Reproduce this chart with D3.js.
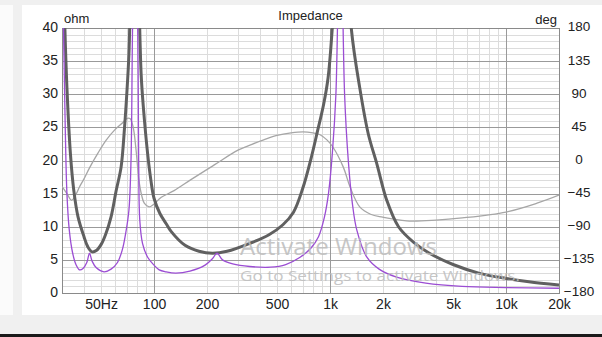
<!DOCTYPE html>
<html>
<head>
<meta charset="utf-8">
<script src="https://cdn.jsdelivr.net/npm/d3@7"></script>
<style>
  body { margin: 0; background: #f0f0f0; }
  svg { display: block; font-family: Arial, "Liberation Sans", sans-serif; }
</style>
</head>
<body>
<div id="chart"></div>
<script>
// frequency axis
var freqTicks = [50, 100, 200, 500, 1000, 2000, 5000, 10000, 20000];
var freqLabels = ["50Hz", "100", "200", "500", "1k", "2k", "5k", "10k", "20k"];
var freqMajor = [100, 1000, 10000];
var ohmTicks = [0, 5, 10, 15, 20, 25, 30, 35, 40];
var degTicks = [-180, -135, -90, -45, 0, 45, 90, 135, 180];

// thick gray: system impedance [Hz, ohm]
var systemImpedance = [
  [30, 60], [31, 42], [32, 31], [33.5, 21], [35, 15.5], [37, 11.5], [40, 8.5],
  [42, 7.0], [44.5, 6.2], [47, 6.4], [50, 7.3], [53, 8.8], [57, 11.5], [61, 15.5],
  [65, 19], [68, 25], [70, 30], [72, 36], [73.5, 45], [78, 65], [82, 45], [84.5, 33],
  [87, 28], [92, 21], [96, 17], [100, 14.3], [108, 12], [117, 10.5], [125, 9.3],
  [150, 7.2], [180, 6.3], [215, 6.0], [260, 6.3], [350, 7.5], [450, 8.8], [540, 10.3],
  [620, 12.2], [700, 15.8], [780, 20.3], [850, 24.5], [920, 28.5], [975, 32.5], [1030, 40],
  [1160, 65], [1320, 40], [1475, 31], [1650, 24], [1845, 19.5], [2100, 14], [2450, 10],
  [3000, 7.6], [3670, 6.0], [5000, 4.3], [7000, 3.0], [10000, 2.2], [13500, 1.7], [20000, 1.2]
];

// purple: driver impedance [Hz, ohm]
var driverImpedance = [
  [30, 55], [30.6, 40], [31.3, 25], [32, 15], [33, 9.5], [34.5, 6], [36, 4.3],
  [37.7, 3.5], [39.5, 3.7], [41.5, 4.6], [43, 6.0], [44.5, 4.8], [47, 3.8], [52, 3.2],
  [57, 3.6], [62, 4.6], [66, 6.5], [69, 9], [72, 12.5], [74, 20], [75.5, 40], [78, 60],
  [80.8, 40], [81.8, 20], [83, 11], [86, 7.5], [92, 5.4], [100, 4.2], [107, 3.5],
  [117, 3.2], [133, 3.0], [160, 3.3], [195, 4.2], [215, 5.2], [228, 6.0], [245, 5.0],
  [280, 4.4], [350, 4.0], [458, 3.9], [560, 4.3], [676, 5.4], [780, 6.8], [860, 8.5],
  [930, 11.5], [980, 15], [1030, 21], [1080, 30], [1144, 60], [1210, 30], [1270, 20],
  [1340, 13.5], [1420, 9.5], [1620, 5.4], [1900, 3.6], [2390, 2.4], [3500, 1.5],
  [5630, 1.0], [10000, 0.82], [20000, 0.72]
];

// thin gray: phase [Hz, deg]
var systemPhase = [
  [30, -35], [32, -45], [34, -54], [36, -46], [37.7, -36], [40, -25], [43, -10],
  [48, 10], [53.6, 28], [60, 42], [66.8, 52], [70, 57], [73, 57], [76, 46], [79, 15],
  [82, -26], [85, -47], [88, -58], [93.7, -63], [100, -59], [110, -50], [130, -41],
  [162, -26], [220, -6], [300, 14], [360, 22], [420, 28], [500, 34], [600, 37.5], [703, 39],
  [800, 37.5], [878, 35], [960, 28], [1040, 18], [1190, -9], [1300, -36], [1475, -63],
  [1700, -73], [1990, -77], [2720, -82], [4000, -81], [5640, -78], [10000, -70],
  [15000, -58], [20000, -47]
];

var svgWidth = 602;
var svgHeight = 337;
var plot = { left: 62, right: 559, top: 28, bottom: 293 };

var svg = d3.select("#chart")
  .append("svg")
  .attr("width", svgWidth)
  .attr("height", svgHeight);

// window background pieces
svg.append("rect").attr("x", 0).attr("y", 5).attr("width", 13).attr("height", 310).attr("fill", "#fbfbfb");
svg.append("rect").attr("x", 22).attr("y", 5).attr("width", 580).attr("height", 310).attr("fill", "#ffffff");
svg.append("rect").attr("x", 0).attr("y", 334).attr("width", 602).attr("height", 3).attr("fill", "#1a1a1a");

var x = d3.scaleLog().domain([30, 20000]).range([plot.left, plot.right]);
var y = d3.scaleLinear().domain([0, 40]).range([plot.bottom, plot.top]);
var yDeg = d3.scaleLinear().domain([-180, 180]).range([plot.bottom, plot.top]);

var plotW = plot.right - plot.left;
var plotH = plot.bottom - plot.top;

// minor grid
var minorFreq = [];
[10, 100, 1000, 10000].forEach(function (d) {
  for (var m = 1; m <= 9; m++) {
    var f = d * m;
    if (f > 30 && f < 20000 && freqMajor.indexOf(f) < 0) minorFreq.push(f);
  }
});
var minorOhm = d3.range(1, 40).filter(function (v) { return v % 5 !== 0; });

var grid = svg.append("g");
grid.selectAll(".vmin").data(minorFreq).enter().append("line")
  .attr("x1", function (d) { return Math.round(x(d)) + 0.5; })
  .attr("x2", function (d) { return Math.round(x(d)) + 0.5; })
  .attr("y1", plot.top).attr("y2", plot.bottom)
  .attr("stroke", "#dcdcdc");
grid.selectAll(".hmin").data(minorOhm).enter().append("line")
  .attr("y1", function (d) { return Math.round(y(d)) + 0.5; })
  .attr("y2", function (d) { return Math.round(y(d)) + 0.5; })
  .attr("x1", plot.left).attr("x2", plot.right)
  .attr("stroke", "#dcdcdc");
grid.selectAll(".hmaj").data(ohmTicks).enter().append("line")
  .attr("y1", function (d) { return Math.round(y(d)) + 0.5; })
  .attr("y2", function (d) { return Math.round(y(d)) + 0.5; })
  .attr("x1", plot.left).attr("x2", plot.right)
  .attr("stroke", "#9a9a9a");
grid.selectAll(".vmaj").data(freqMajor).enter().append("line")
  .attr("x1", function (d) { return Math.round(x(d)) + 0.5; })
  .attr("x2", function (d) { return Math.round(x(d)) + 0.5; })
  .attr("y1", plot.top).attr("y2", plot.bottom)
  .attr("stroke", "#9a9a9a");

svg.append("rect")
  .attr("x", plot.left + 0.5).attr("y", plot.top + 0.5)
  .attr("width", plotW).attr("height", plotH)
  .attr("fill", "none").attr("stroke", "#8a8a8a");

// clip
svg.append("clipPath").attr("id", "clip")
  .append("rect").attr("x", plot.left).attr("y", plot.top).attr("width", plotW).attr("height", plotH);

var lineZ = d3.line()
  .x(function (d) { return x(d[0]); })
  .y(function (d) { return y(d[1]); })
  .curve(d3.curveCatmullRom.alpha(0.5));
var lineP = d3.line()
  .x(function (d) { return x(d[0]); })
  .y(function (d) { return yDeg(d[1]); })
  .curve(d3.curveCatmullRom.alpha(0.5));

var curves = svg.append("g").attr("clip-path", "url(#clip)");
curves.append("path").datum(systemPhase)
  .attr("d", lineP).attr("fill", "none").attr("stroke", "#a6a6a6").attr("stroke-width", 1.3);
curves.append("path").datum(systemImpedance)
  .attr("d", lineZ).attr("fill", "none").attr("stroke", "#606060").attr("stroke-width", 3);
curves.append("path").datum(driverImpedance)
  .attr("d", lineZ).attr("fill", "none").attr("stroke", "#9b4dd3").attr("stroke-width", 1.3);

// axes
var leftAxis = d3.axisLeft(y).tickValues(ohmTicks).tickSize(0).tickPadding(4);
var gl = svg.append("g").attr("transform", "translate(" + plot.left + ",0)").call(leftAxis);
gl.select(".domain").remove();
gl.selectAll("text").attr("dy", "0.25em").style("font-size", "14px").style("fill", "#222");

var rightAxis = d3.axisRight(yDeg).tickValues(degTicks).tickSize(0);
var gr = svg.append("g").attr("transform", "translate(" + plot.right + ",0)").call(rightAxis);
gr.select(".domain").remove();
gr.selectAll("text").attr("x", 20).attr("dy", "0.22em").style("text-anchor", "middle")
  .style("font-size", "13.5px").style("fill", "#222");

var bottomAxis = d3.axisBottom(x).tickValues(freqTicks).tickSize(0).tickPadding(6)
  .tickFormat(function (d, i) { return freqLabels[i]; });
var gb = svg.append("g").attr("transform", "translate(0," + plot.bottom + ")").call(bottomAxis);
gb.select(".domain").remove();
gb.selectAll("text").style("font-size", "14px").style("fill", "#222");

// labels
svg.append("text").attr("x", 64).attr("y", 23).style("font-size", "13px").style("fill", "#222").text("ohm");
svg.append("text").attr("x", 557).attr("y", 24).style("text-anchor", "end").style("font-size", "13px").style("fill", "#222").text("deg");
svg.append("text").attr("x", (plot.left + plot.right) / 2).attr("y", 20).style("text-anchor", "middle")
  .style("font-size", "13px").style("fill", "#222").text("Impedance");

// windows watermark
svg.append("text").attr("x", 240).attr("y", 255)
  .attr("textLength", 197).attr("lengthAdjust", "spacingAndGlyphs")
  .style("font-family", "'Open Sans', sans-serif").style("font-size", "23px")
  .style("fill", "#bdbdbd").style("opacity", 0.85).text("Activate Windows");
svg.append("text").attr("x", 240).attr("y", 281)
  .attr("textLength", 280).attr("lengthAdjust", "spacingAndGlyphs")
  .style("font-family", "'Open Sans', sans-serif").style("font-size", "15px")
  .style("fill", "#bdbdbd").style("opacity", 0.85).text("Go to Settings to activate Windows.");
</script>
</body>
</html>
